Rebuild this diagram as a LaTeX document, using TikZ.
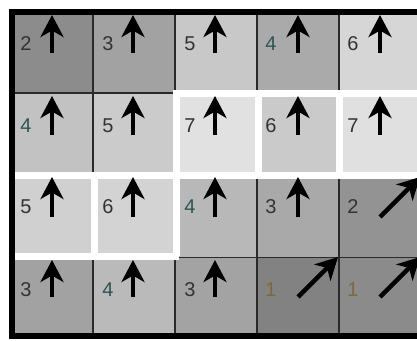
\documentclass[tikz,border=0pt]{standalone}
\usepackage{fontspec}
\setmainfont{Liberation Sans}
\usetikzlibrary{arrows.meta}
\definecolor{g11}{HTML}{8C8C8C}
\definecolor{g12}{HTML}{A2A2A2}
\definecolor{g13}{HTML}{C8C8C8}
\definecolor{g14}{HTML}{AAAAAA}
\definecolor{g15}{HTML}{D6D6D6}
\definecolor{g21}{HTML}{C2C2C2}
\definecolor{g22}{HTML}{CBCBCB}
\definecolor{g23}{HTML}{E1E1E1}
\definecolor{g24}{HTML}{CACACA}
\definecolor{g25}{HTML}{E0E0E0}
\definecolor{g31}{HTML}{D0D0D0}
\definecolor{g32}{HTML}{D3D3D3}
\definecolor{g33}{HTML}{B8B8B8}
\definecolor{g34}{HTML}{A9A9A9}
\definecolor{g35}{HTML}{939393}
\definecolor{g41}{HTML}{A2A2A2}
\definecolor{g42}{HTML}{BABABA}
\definecolor{g43}{HTML}{A3A3A3}
\definecolor{g44}{HTML}{828282}
\definecolor{g45}{HTML}{8B8B8B}
\definecolor{numgray}{HTML}{333333}
\definecolor{numteal}{HTML}{2E5555}
\definecolor{numolive}{HTML}{7A6A3A}
\definecolor{sepdark}{HTML}{2A2A2A}
\begin{document}
\begin{tikzpicture}[x=1pt,y=-1pt,
  darkline/.style={draw=sepdark, line width=1.6pt},
  gapline/.style={draw=white, line width=7pt},
  arr/.style={-{Stealth[length=22pt,width=23pt,inset=6.5pt]}, line width=4.5pt, draw=black},
  num/.style={font=\fontsize{20}{20}\selectfont, anchor=base, inner sep=0pt, text=numgray}
]
\useasboundingbox (0,0) rectangle (417,340);
\begin{scope}
\clip (0,0) rectangle (417,340);
% cell fills
\fill[g11] (15,15) rectangle (93,93);
\fill[g12] (93,15) rectangle (175,93);
\fill[g13] (175,15) rectangle (257,93);
\fill[g14] (257,15) rectangle (339,93);
\fill[g15] (339,15) rectangle (421,93);
\fill[g21] (15,93) rectangle (93,175);
\fill[g22] (93,93) rectangle (175,175);
\fill[g23] (175,93) rectangle (257,175);
\fill[g24] (257,93) rectangle (339,175);
\fill[g25] (339,93) rectangle (421,175);
\fill[g31] (15,175) rectangle (93,257);
\fill[g32] (93,175) rectangle (175,257);
\fill[g33] (175,175) rectangle (257,257);
\fill[g34] (257,175) rectangle (339,257);
\fill[g35] (339,175) rectangle (421,257);
\fill[g41] (15,257) rectangle (93,335);
\fill[g42] (93,257) rectangle (175,335);
\fill[g43] (175,257) rectangle (257,335);
\fill[g44] (257,257) rectangle (339,335);
\fill[g45] (339,257) rectangle (421,335);
% dark separators
\draw[darkline] (93,15) -- (93,175);
\draw[darkline] (93,257) -- (93,335);
\draw[darkline] (175,15) -- (175,93);
\draw[darkline] (175,257) -- (175,335);
\draw[darkline] (257,15) -- (257,93);
\draw[darkline] (257,175) -- (257,335);
\draw[darkline] (339,15) -- (339,93);
\draw[darkline] (339,175) -- (339,335);
\draw[darkline] (15,93) -- (175,93);
\draw[darkline] (175,257.5) -- (421,257.5);
% white gaps
\draw[gapline] (175,93) -- (421,93);
\draw[gapline] (15,175) -- (421,175);
\draw[gapline] (15,256) -- (178.5,256);
\draw[gapline] (176,89.5) -- (176,256);
\draw[gapline] (258,89.5) -- (258,178.5);
\draw[gapline] (339,89.5) -- (339,178.5);
\draw[gapline] (94,171.5) -- (94,259.5);
% borders
\fill[black] (9,9) rectangle (421,15);
\fill[black] (9,9) rectangle (15,339);
\fill[black] (9,333) rectangle (421,339);
% numbers
\node[num] (n11) at (26,50) {2};
\node[num] (n12) at (108,50) {3};
\node[num] (n13) at (190,50) {5};
\node[num,text=numteal] (n14) at (271,50) {4};
\node[num] (n15) at (353,50) {6};
\node[num,text=numteal] (n21) at (26,132) {4};
\node[num] (n22) at (108,132) {5};
\node[num] (n23) at (190,132) {7};
\node[num] (n24) at (271,132) {6};
\node[num] (n25) at (353,132) {7};
\node[num] (n31) at (26,213) {5};
\node[num] (n32) at (108,213) {6};
\node[num,text=numteal] (n33) at (190,213) {4};
\node[num] (n34) at (271,213) {3};
\node[num] (n35) at (353,213) {2};
\node[num] (n41) at (26,296) {3};
\node[num,text=numteal] (n42) at (108,296) {4};
\node[num] (n43) at (190,296) {3};
\node[num,text=numolive] (n44) at (271,296) {1};
\node[num,text=numolive] (n45) at (353,296) {1};
% arrow ends
\coordinate (s11) at (52,53);  \coordinate (t11) at (52,15);
\coordinate (s12) at (133,53); \coordinate (t12) at (133,15);
\coordinate (s13) at (215,53); \coordinate (t13) at (215,15);
\coordinate (s14) at (298,53); \coordinate (t14) at (298,15);
\coordinate (s15) at (380,53); \coordinate (t15) at (380,15);
\coordinate (s21) at (52,135);  \coordinate (t21) at (52,96);
\coordinate (s22) at (133,135); \coordinate (t22) at (133,96);
\coordinate (s23) at (215,135); \coordinate (t23) at (215,96);
\coordinate (s24) at (298,135); \coordinate (t24) at (298,96);
\coordinate (s25) at (380,135); \coordinate (t25) at (380,96);
\coordinate (s31) at (52,217);  \coordinate (t31) at (52,177);
\coordinate (s32) at (133,217); \coordinate (t32) at (133,177);
\coordinate (s33) at (215,217); \coordinate (t33) at (215,177);
\coordinate (s34) at (298,217); \coordinate (t34) at (298,177);
\coordinate (s35) at (380,217); \coordinate (t35) at (420,177);
\coordinate (s41) at (52,297);  \coordinate (t41) at (52,260);
\coordinate (s42) at (133,297); \coordinate (t42) at (133,260);
\coordinate (s43) at (215,297); \coordinate (t43) at (215,260);
\coordinate (s44) at (298,297); \coordinate (t44) at (338,257);
\coordinate (s45) at (380,297); \coordinate (t45) at (420,257);
\foreach \r in {1,2,3,4}{
  \foreach \c in {1,2,3,4,5}{
    \draw[arr] (s\r\c) -- (t\r\c);
  }
}
\end{scope}
\end{tikzpicture}
\end{document}
